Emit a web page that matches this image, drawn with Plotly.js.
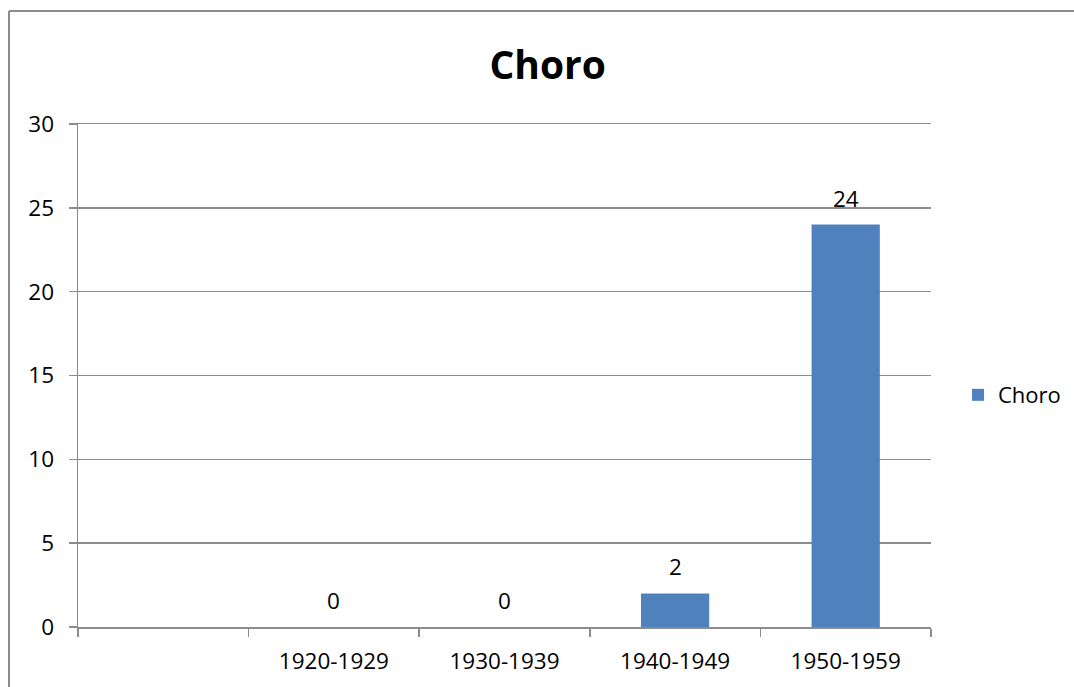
<!DOCTYPE html>
<html>
<head>
<meta charset="utf-8">
<script src="https://cdn.plot.ly/plotly-3.0.1.min.js"></script>
<style>
html,body{margin:0;padding:0;background:#fff;}
#chart{width:1074px;height:687px;}
</style>
</head>
<body>
<div id="chart"></div>
<script>
// Data
const categories = [" ", "1920-1929", "1930-1939", "1940-1949", "1950-1959"];
const values = [null, 0, 0, 2, 24];
const seriesName = "Choro";
const chartTitle = "Choro";
const yTickVals = [0, 5, 10, 15, 20, 25, 30];

const FONT = "Open Sans, sans-serif";
const GRID = "#8c8c8c";
const TXT = 22.5;

const labelAnnotations = categories.map((c, i) => values[i] === null ? null : ({
  x: c, y: values[i], xref: "x", yref: "y",
  text: String(values[i]), showarrow: false,
  yanchor: "bottom", yshift: 9,
  font: {family: FONT, size: TXT, color: "#000"}
})).filter(a => a);

const trace = {
  type: "bar",
  x: categories,
  y: values,
  name: seriesName,
  width: 0.4,
  marker: {color: "#4F81BD"},
  showlegend: true,
  hoverinfo: "x+y"
};

const layout = {
  width: 1074, height: 687,
  margin: {l: 78, r: 143, t: 124, b: 60, pad: 0},
  paper_bgcolor: "#fff", plot_bgcolor: "#fff",
  font: {family: FONT, color: "#000"},
  title: {
    text: "<b>" + chartTitle + "</b>",
    font: {family: FONT, size: 39, color: "#000"},
    x: 0.51, xref: "container", xanchor: "center",
    y: 0.905, yref: "container", yanchor: "middle"
  },
  xaxis: {
    type: "category",
    categoryorder: "array", categoryarray: categories,
    tickson: "boundaries",
    ticks: "outside", ticklen: 8, tickcolor: GRID, tickwidth: 1.5,
    showline: true, mirror: true, linecolor: GRID, linewidth: 1.5,
    showgrid: false, zeroline: false,
    tickfont: {family: FONT, size: TXT, color: "#000"},
    ticklabelstandoff: 13
  },
  yaxis: {
    range: [0, 30], tickvals: yTickVals,
    ticks: "outside", ticklen: 8, tickcolor: GRID, tickwidth: 1.5,
    showline: true, linecolor: GRID, linewidth: 1.5,
    showgrid: true, gridcolor: GRID, gridwidth: 1.5,
    zeroline: false,
    tickfont: {family: FONT, size: TXT, color: "#000"},
    ticklabelstandoff: 10
  },
  legend: {
    xref: "container", yref: "container",
    x: 0.892, xanchor: "left", y: 0.425, yanchor: "middle",
    font: {family: FONT, size: 22, color: "#000"},
    bgcolor: "rgba(0,0,0,0)"
  },
  annotations: labelAnnotations,
  shapes: [
    {type: "line", xref: "paper", yref: "paper", x0: -0.0809, x1: -0.0809, y0: 1.2247, y1: -0.2,
     line: {color: GRID, width: 2}},
    {type: "line", xref: "paper", yref: "paper", x0: -0.0809, x1: 1.2, y0: 1.2247, y1: 1.2247,
     line: {color: GRID, width: 2}}
  ],
  bargap: 0.6
};

Plotly.newPlot("chart", [trace], layout, {displayModeBar: false, staticPlot: true});
</script>
</body>
</html>
